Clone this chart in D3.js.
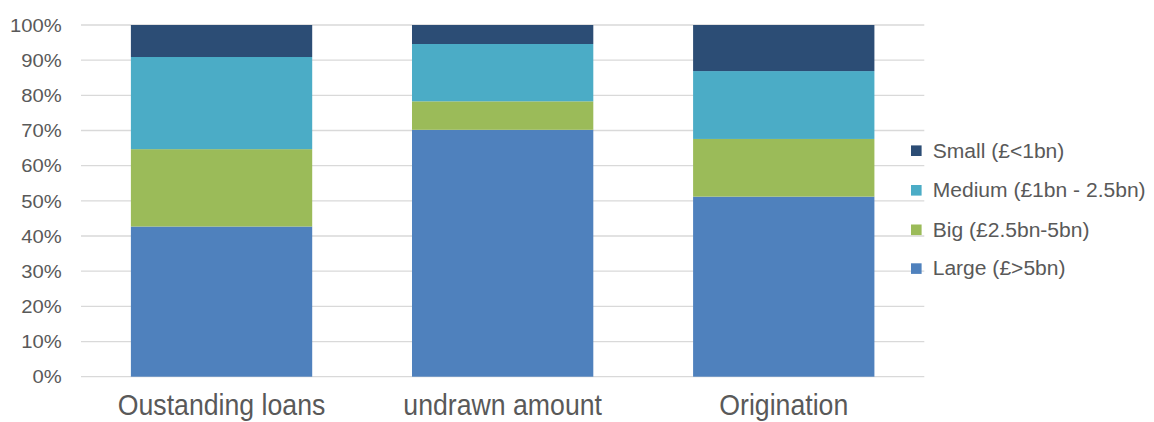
<!DOCTYPE html>
<html>
<head>
<meta charset="utf-8">
<script src="https://cdn.jsdelivr.net/npm/d3@7"></script>
<style>
  html, body { margin: 0; padding: 0; background: #fff; }
  svg { display: block; font-family: "Liberation Sans", Arial, sans-serif; }
</style>
</head>
<body>
<svg id="chart" width="1154" height="422"></svg>
<script>
// Share of each lender size band, per measure (percent of total)
const categories = ["Oustanding loans", "undrawn amount", "Origination"];
const seriesNames = ["Large (£>5bn)", "Big (£2.5bn-5bn)", "Medium (£1bn - 2.5bn)", "Small (£<1bn)"];
const large  = [42.7, 70.2, 51.2];
const big    = [22.0,  8.1, 16.4];
const medium = [26.2, 16.3, 19.3];
const small  = [ 9.1,  5.4, 13.1];
const colors = ["#4f81bd", "#9bbb59", "#4bacc6", "#2c4d75"];
const yTicks = [0, 10, 20, 30, 40, 50, 60, 70, 80, 90, 100];

const seriesValues = [large, big, medium, small];
const rows = categories.map((c, i) => {
  const r = { category: c };
  seriesNames.forEach((s, k) => { r[s] = seriesValues[k][i]; });
  return r;
});

const svg = d3.select("#chart");
const plot = { left: 81, right: 924.3, top: 25, bottom: 376.7 };

const x = d3.scaleBand()
  .domain(categories)
  .range([plot.left, plot.right])
  .paddingInner(0.355)
  .paddingOuter(0.1775);

const y = d3.scaleLinear()
  .domain([0, 100])
  .range([plot.bottom, plot.top]);

const textColor = "#595959";

// Horizontal gridlines
svg.append("g")
  .selectAll("line")
  .data(yTicks)
  .join("line")
  .attr("x1", plot.left)
  .attr("x2", plot.right)
  .attr("y1", d => y(d))
  .attr("y2", d => y(d))
  .attr("stroke", "#d9d9d9")
  .attr("stroke-width", 1.3);

// Y axis labels
const tickSx = 1.15;
const yAxis = svg.append("g")
  .attr("transform", `translate(${plot.left},0)`)
  .call(d3.axisLeft(y).tickValues(yTicks).tickFormat(d => d + "%").tickSize(0).tickPadding(0));
yAxis.select(".domain").remove();
yAxis.selectAll("text")
  .attr("fill", textColor)
  .attr("font-size", "17.6px")
  .attr("font-family", "Liberation Sans, Arial, sans-serif")
  .attr("x", -19.3 / tickSx)
  .attr("dy", "0.35em")
  .attr("transform", `scale(${tickSx},1)`);

// Stacked bars
const stack = d3.stack().keys(seriesNames);
const layers = stack(rows);

svg.append("g")
  .selectAll("g")
  .data(layers)
  .join("g")
  .attr("fill", (d, i) => colors[i])
  .selectAll("rect")
  .data(d => d)
  .join("rect")
  .attr("x", d => x(d.data.category))
  .attr("width", x.bandwidth())
  .attr("y", d => y(d[1]))
  .attr("height", d => y(d[0]) - y(d[1]));

// Category labels
const catSx = 0.92;
svg.append("g")
  .selectAll("text")
  .data(categories)
  .join("text")
  .attr("transform", d => `translate(${x(d) + x.bandwidth() / 2},415) scale(${catSx},1)`)
  .attr("text-anchor", "middle")
  .attr("fill", textColor)
  .attr("font-size", "29px")
  .text(d => d);

// Legend (top entry is the top of the stack)
const legendOrder = seriesNames.map((s, i) => ({ name: s, color: colors[i] })).reverse();
const legendY = [150.7, 190.3, 229.8, 268.6];
const legSx = 1.08;
const legend = svg.append("g")
  .selectAll("g")
  .data(legendOrder)
  .join("g")
  .attr("transform", (d, i) => `translate(911,${legendY[i]})`);
legend.append("rect")
  .attr("x", 0)
  .attr("y", -5.3)
  .attr("width", 10.6)
  .attr("height", 10.6)
  .attr("fill", d => d.color);
legend.append("text")
  .attr("transform", `translate(21.7,0) scale(${legSx},1)`)
  .attr("dy", "0.35em")
  .attr("fill", textColor)
  .attr("font-size", "19.5px")
  .text(d => d.name);
</script>
</body>
</html>
